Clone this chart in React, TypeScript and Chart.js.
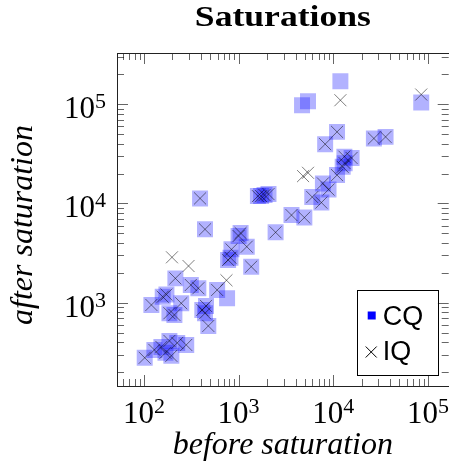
import { useEffect, useRef } from "react";
import { Chart, registerables } from "chart.js";

Chart.register(...registerables);

// ---- data ----
const cqBefore = [
  102, 129, 153, 169, 195, 186, 225, 280,
  120, 158, 173, 186, 210, 248, 215, 313, 376, 414, 442, 453, 479, 594, 756,
  392, 442, 775, 821, 841, 1000, 1050, 1220, 1360,
  1600, 1730, 1880, 2070, 2460, 3620, 4950, 6000, 7490, 7770, 8910,
  10960, 12570, 13190, 13100, 15610, 8210, 10960, 26850, 35670,
  4680, 5410, 11890, 84900,
];
const cqAfter = [
  279, 335, 359, 313, 292, 413, 394, 376,
  950, 1150, 1210, 784, 754, 988, 1760, 1510, 1400, 846, 784, 929, 584, 1345, 1110,
  11250, 5490, 2700, 2840, 3450, 4700, 5040, 3670, 2310,
  11870, 11870, 12150, 12430, 5120, 7640, 7210, 11600, 10210, 15930, 13800,
  19310, 23400, 25490, 29630, 28750, 39590, 52640, 45170, 46880,
  97700, 107200, 170300, 104000,
];
const iqBefore = [
  102, 129, 153, 169, 195, 186, 225, 280,
  120, 158, 173, 186, 210, 248, 215, 313, 376, 414, 442, 453, 479, 594,
  392, 442, 775, 821, 841, 1000, 1050, 1220, 1360,
  1600, 1730, 1880, 2070, 2460, 3620, 4950, 6000, 7490, 7770, 8910,
  10960, 12570, 13190, 13100, 15610, 8210, 10960, 26850, 35670,
  198, 296, 745, 4800, 5410, 11890, 84900,
];
const iqAfter = [
  279, 335, 359, 313, 292, 413, 394, 376,
  950, 1150, 1210, 784, 754, 988, 1760, 1510, 1400, 846, 784, 929, 584, 1345,
  11250, 5490, 2700, 2840, 3450, 4700, 5040, 3670, 2310,
  11870, 11870, 12150, 12430, 5120, 7640, 7210, 11600, 10210, 15930, 13800,
  19310, 23400, 25490, 29630, 28750, 39590, 52640, 45170, 46880,
  2870, 2345, 1684, 18870, 20370, 109700, 125200,
];
const seriesNames = ["CQ", "IQ"];
const xTickExponents = [2, 3, 4, 5];
const yTickExponents = [3, 4, 5];
const titleText = "Saturations";
const xTitleText = "before saturation";
const yTitleText = "after saturation";
const xRange = [52, 165600];
const yRange = [145, 328000];

const SERIF = '"Liberation Serif", "Times New Roman", serif';
const SANS = '"Liberation Sans", Arial, sans-serif';

function drawPower(ctx: CanvasRenderingContext2D, exp: number, x: number, baseline: number, align: "center" | "right") {
  ctx.font = `31px ${SERIF}`;
  const wBase = ctx.measureText("10").width;
  ctx.font = `22px ${SERIF}`;
  const wExp = ctx.measureText(String(exp)).width;
  const total = wBase + wExp;
  const start = align === "center" ? x - total / 2 : x - total;
  ctx.textAlign = "left";
  ctx.textBaseline = "alphabetic";
  ctx.font = `31px ${SERIF}`;
  ctx.fillText("10", start, baseline);
  ctx.font = `22px ${SERIF}`;
  ctx.fillText(String(exp), start + wBase, baseline - 10);
}

const framePlugin = {
  id: "pgfFrame",
  afterDraw(chart: any) {
    const { ctx, chartArea: a, scales } = chart;
    const xs = scales.x;
    const ys = scales.y;
    ctx.save();
    ctx.fillStyle = "#000";

    // ticks inside on all four sides
    ctx.strokeStyle = "rgba(0,0,0,0.6)";
    ctx.lineWidth = 1;
    ctx.beginPath();
    for (let e = Math.floor(Math.log10(xRange[0])); e <= Math.ceil(Math.log10(xRange[1])); e++) {
      for (let m = 1; m <= 9; m++) {
        const v = m * Math.pow(10, e);
        if (v < xRange[0] || v > xRange[1]) continue;
        const len = m === 1 ? 11 : 7;
        const px = Math.round(xs.getPixelForValue(v)) + 0.5;
        ctx.moveTo(px, a.bottom);
        ctx.lineTo(px, a.bottom - len);
        ctx.moveTo(px, a.top);
        ctx.lineTo(px, a.top + len);
      }
    }
    for (let e = Math.floor(Math.log10(yRange[0])); e <= Math.ceil(Math.log10(yRange[1])); e++) {
      for (let m = 1; m <= 9; m++) {
        const v = m * Math.pow(10, e);
        if (v < yRange[0] || v > yRange[1]) continue;
        const len = m === 1 ? 11 : 7;
        const py = Math.round(ys.getPixelForValue(v)) + 0.5;
        ctx.moveTo(a.left, py);
        ctx.lineTo(a.left + len, py);
        ctx.moveTo(a.right, py);
        ctx.lineTo(a.right - len, py);
      }
    }
    ctx.stroke();

    // frame
    ctx.strokeStyle = "#222";
    ctx.strokeRect(Math.round(a.left) + 0.5, Math.round(a.top) + 0.5, Math.round(a.right - a.left), Math.round(a.bottom - a.top));

    // tick labels
    for (const e of xTickExponents) {
      drawPower(ctx, e, xs.getPixelForValue(Math.pow(10, e)), a.bottom + 37, "center");
    }
    for (const e of yTickExponents) {
      drawPower(ctx, e, a.left - 11, ys.getPixelForValue(Math.pow(10, e)) + 14, "right");
    }

    // title
    ctx.textAlign = "center";
    ctx.textBaseline = "alphabetic";
    ctx.font = `bold 30px ${SERIF}`;
    const tw = ctx.measureText(titleText).width;
    const cx = (a.left + a.right) / 2;
    ctx.save();
    ctx.translate(cx, 26);
    ctx.scale(176 / tw, 1);
    ctx.fillText(titleText, 0, 0);
    ctx.restore();

    // axis titles
    ctx.font = `italic 32px ${SERIF}`;
    ctx.fillText(xTitleText, cx, 454);
    ctx.save();
    ctx.translate(31.5, 225);
    ctx.rotate(-Math.PI / 2);
    ctx.fillText(yTitleText, 0, 0);
    ctx.restore();

    // legend
    const lx = a.right - 11 - 81;
    const ly = a.bottom - 11 - 85;
    ctx.fillStyle = "#fff";
    ctx.fillRect(lx, ly, 81, 85);
    ctx.strokeStyle = "#000";
    ctx.strokeRect(Math.round(lx) + 0.5, Math.round(ly) + 0.5, 81, 85);
    ctx.fillStyle = "#0000ff";
    ctx.fillRect(lx + 11, ly + 21.5, 8, 8);
    ctx.strokeStyle = "#000";
    ctx.beginPath();
    const ccx = lx + 14.5, ccy = ly + 62;
    ctx.moveTo(ccx - 5.5, ccy - 5.5);
    ctx.lineTo(ccx + 5.5, ccy + 5.5);
    ctx.moveTo(ccx + 5.5, ccy - 5.5);
    ctx.lineTo(ccx - 5.5, ccy + 5.5);
    ctx.stroke();
    ctx.fillStyle = "#000";
    ctx.textAlign = "left";
    ctx.font = `27px ${SANS}`;
    ctx.fillText(seriesNames[0], lx + 26, ly + 34.5);
    ctx.fillText(seriesNames[1], lx + 26, ly + 70);
    ctx.restore();
  },
};

export default function App() {
  const ref = useRef<HTMLCanvasElement | null>(null);
  useEffect(() => {
    if (!ref.current) return;
    const cq = cqBefore.map((v, i) => ({ x: v, y: cqAfter[i] }));
    const iq = iqBefore.map((v, i) => ({ x: v, y: iqAfter[i] }));
    const chart = new Chart(ref.current, {
      type: "scatter",
      data: {
        datasets: [
          {
            label: seriesNames[0],
            data: cq,
            order: 2,
            pointStyle: "rect",
            pointRadius: 11.3,
            pointBackgroundColor: "rgba(0,0,255,0.3)",
            pointBorderWidth: 0,
            pointBorderColor: "rgba(0,0,0,0)",
          },
          {
            label: seriesNames[1],
            data: iq,
            order: 1,
            pointStyle: "crossRot",
            pointRadius: 8.5,
            pointBorderColor: "rgba(0,0,0,0.5)",
            pointBorderWidth: 1,
          },
        ],
      },
      options: {
        responsive: false,
        animation: false,
        devicePixelRatio: 1,
        events: [],
        layout: { padding: { left: 117, top: 53, right: 8, bottom: 82 } },
        scales: {
          x: { type: "logarithmic", min: xRange[0], max: xRange[1], display: false },
          y: { type: "logarithmic", min: yRange[0], max: yRange[1], display: false },
        },
        plugins: {
          legend: { display: false },
          tooltip: { enabled: false },
          title: { display: false },
        },
      },
      plugins: [framePlugin],
    } as any);
    return () => chart.destroy();
  }, []);
  return (
    <div style={{ position: "absolute", left: 0, top: 0, width: 449, height: 468, overflow: "hidden", background: "#fff" }}>
      <canvas ref={ref} width={460} height={468} style={{ display: "block" }} />
    </div>
  );
}
